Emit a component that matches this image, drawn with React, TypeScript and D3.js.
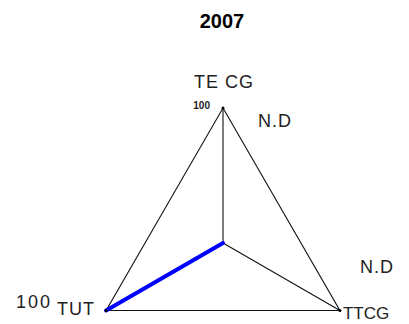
import React from "react";
import * as d3 from "d3";

const title = "2007";
const axes = ["TECG", "TTCG", "TUT"];
const axisLabels = ["TE CG", "TTCG", "TUT"];
const values = [0, 0, 100];
const valueLabels = ["N.D", "N.D", "100"];
const maxValue = 100;

export default function App() {
  const W = 409, H = 324;
  const cx = 223, cy = 243, R = 135;
  const angle = d3.scaleOrdinal<string, number>().domain(axes).range([0, (2 * Math.PI) / 3, (4 * Math.PI) / 3]);
  const r = d3.scaleLinear().domain([0, maxValue]).range([0, R]);
  const pt = (a: string, v: number): [number, number] => {
    const t = angle(a);
    return [cx + r(v) * Math.sin(t), cy - r(v) * Math.cos(t)];
  };
  const outline = d3.line()(axes.map((a) => pt(a, maxValue))) + "Z";
  const dataPath = d3
    .lineRadial<number>()
    .angle((_, i) => angle(axes[i]))
    .radius((d) => r(d))
    .curve(d3.curveLinearClosed)(values) as string;
  const font = "'Liberation Sans', Arial, sans-serif";
  const top = pt("TECG", maxValue);
  const br = pt("TTCG", maxValue);
  const bl = pt("TUT", maxValue);
  return (
    <svg width={W} height={H} style={{ position: "absolute", left: 0, top: 0, background: "#fff" }}>
      <text x={222} y={28} textAnchor="middle" fontFamily={font} fontWeight="bold" fontSize={20} fill="#000">
        {title}
      </text>
      <path d={outline} fill="none" stroke="#111" strokeWidth={1.1} />
      {axes.map((a) => {
        const [x, y] = pt(a, maxValue);
        return <line key={a} x1={cx} y1={cy} x2={x} y2={y} stroke="#111" strokeWidth={1.1} />;
      })}
      <path d={dataPath} transform={`translate(${cx},${cy})`} fill="none" stroke="#0000ff" strokeWidth={4} strokeLinejoin="round" strokeLinecap="round" />
      {axes.map((a) => {
        const [x, y] = pt(a, maxValue);
        return <circle key={a} cx={x} cy={y} r={1.5} fill="#000" />;
      })}
      <g fontFamily={font} fill="#222">
        <text x={top[0] + 1} y={top[1] - 20} textAnchor="middle" fontSize={18} letterSpacing={1}>{axisLabels[0]}</text>
        <text x={top[0] - 13} y={top[1] + 1} textAnchor="end" fontSize={10} fontWeight="bold">{String(maxValue)}</text>
        <text x={top[0] + 35} y={top[1] + 19} fontSize={18} letterSpacing={1}>{valueLabels[0]}</text>
        <text x={br[0] + 3} y={br[1] + 8} fontSize={17}>{axisLabels[1]}</text>
        <text x={br[0] + 20} y={br[1] - 38} fontSize={18} letterSpacing={1}>{valueLabels[1]}</text>
        <text x={bl[0] - 11} y={bl[1] + 4} textAnchor="end" fontSize={18} letterSpacing={1}>{axisLabels[2]}</text>
        <text x={bl[0] - 90} y={bl[1] - 3} fontSize={18} letterSpacing={2}>{valueLabels[2]}</text>
      </g>
    </svg>
  );
}
